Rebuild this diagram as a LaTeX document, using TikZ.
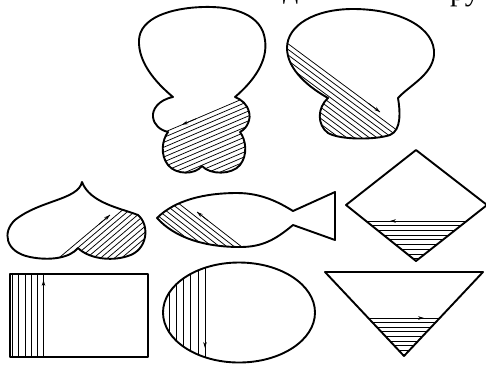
\documentclass[tikz,border=0pt]{standalone}
\usepackage{fontspec}
\setmainfont{Liberation Serif}
\usetikzlibrary{arrows.meta}
\begin{document}
\begin{tikzpicture}[x=1pt,y=-1pt,
  outline/.style={line width=1.9pt, line join=round},
  hatch/.style={line width=0.75pt},
  arr/.style={line width=0.75pt, -{Stealth[length=6pt,width=3.6pt]}},
  toptext/.style={anchor=base west, inner sep=0pt, font=\fontsize{30}{36}\selectfont}]
\clip (0,0) rectangle (486,365);
\fill[white] (0,0) rectangle (486,365);

% cropped heading text
\node[toptext] (t1) at (283,-2) {д};
\node[toptext] (t2) at (450,0.5) {ру};

% ---------- shape 1 : figure ----------
\def\shpA{(235,97) .. controls (255,80) and (268,60) .. (265,40) .. controls (262,15) and (235,6) .. (203,7) .. controls (170,8) and (140,18) .. (139,40) .. controls (138,62) and (155,82) .. (173,97) .. controls (158,100) and (152,110) .. (153,117) .. controls (154,125) and (160,130) .. (168,132) .. controls (162,140) and (160,155) .. (168,165) .. controls (176,175) and (195,175) .. (202,166) .. controls (210,175) and (232,175) .. (240,165) .. controls (248,155) and (246,140) .. (240,132) .. controls (248,128) and (251,118) .. (249,112) .. controls (247,104) and (242,100) .. (235,97) -- cycle}
\begin{scope}
  \clip \shpA;
  \foreach \k in {0,...,14} \draw[hatch, shift={(0,\k*4.9)}] (120,151.2) -- (280,82.9);
\end{scope}
\draw[arr] (196,118.8) -- (182,124.7);
\draw[outline] \shpA;

% ---------- shape 2 : bulb ----------
\def\shpB{(328,98) .. controls (310,88) and (287,70) .. (287,48) .. controls (287,25) and (315,9) .. (353,9) .. controls (400,9) and (436,28) .. (434,55) .. controls (432,75) and (410,85) .. (398,98) .. controls (400,110) and (402,130) .. (390,135) .. controls (375,140) and (340,140) .. (328,133) .. controls (317,125) and (317,108) .. (328,98) -- cycle}
\begin{scope}
  \clip \shpB;
  \draw[hatch] (280,37.8) -- (380,112);
  \foreach \k in {1,...,13} \draw[hatch, shift={(0,\k*5.6)}] (270,30.4) -- (420,141.7);
\end{scope}
\draw[arr] (368,103.1) -- (380,112);
\draw[outline] \shpB;

% ---------- shape 3 : heart ----------
\def\shpC{(82,182) .. controls (78,200) and (40,200) .. (15,220) .. controls (2,232) and (5,252) .. (30,257) .. controls (50,261) and (70,258) .. (78,248) .. controls (88,258) and (110,262) .. (128,256) .. controls (148,250) and (150,225) .. (138,215) .. controls (120,208) and (90,203) .. (82,182) -- cycle}
\begin{scope}
  \clip \shpC;
  \draw[hatch] (55,261.2) -- (110,215);
  \foreach \k in {1,...,12} \draw[hatch, shift={(0,\k*5.9)}] (40,273.9) -- (160,172.4);
\end{scope}
\draw[arr] (99,224.3) -- (110,215);
\draw[outline] \shpC;

% ---------- shape 4 : fish ----------
\def\shpD{(157,218) .. controls (175,200) and (205,193) .. (237,193) .. controls (262,193) and (280,203) .. (293,211) -- (335,192) -- (335,240) -- (293,225) .. controls (275,240) and (262,247) .. (240,247) .. controls (205,247) and (175,238) .. (157,218) -- cycle}
\begin{scope}
  \clip \shpD;
  \draw[hatch] (247,250.9) -- (197,212);
  \foreach \k in {1,...,9} \draw[hatch, shift={(0,\k*5.7)}] (140,167.6) -- (260,261);
\end{scope}
\draw[arr] (208,220.6) -- (197,212);
\draw[outline] \shpD;

% ---------- shape 5 : rhombus ----------
\def\shpE{(416,150) -- (487,205) -- (416,261) -- (346,205) -- cycle}
\begin{scope}
  \clip \shpE;
  \foreach \k in {0,...,8} \draw[hatch] (340,221+\k*4.7) -- (490,221+\k*4.7);
\end{scope}
\draw[arr] (403,221) -- (390,221);
\draw[outline] \shpE;

% ---------- shape 6 : rectangle ----------
\foreach \x in {12.5,18.5,25,31.5,37.5,43.5} \draw[hatch] (\x,274) -- (\x,357);
\draw[arr] (43.5,293) -- (43.5,280);
\draw[outline] (10,274) rectangle (148,357);

% ---------- shape 7 : ellipse ----------
\begin{scope}
  \clip (239,312.5) ellipse [x radius=76, y radius=50];
  \foreach \x in {169,176,183,190,198,205} \draw[hatch] (\x,255) -- (\x,370);
\end{scope}
\draw[arr] (205,335) -- (205,348);
\draw[outline] (239,312.5) ellipse [x radius=76, y radius=50];

% ---------- shape 8 : triangle ----------
\def\shpF{(325,272) -- (483,272) -- (404,356) -- cycle}
\begin{scope}
  \clip \shpF;
  \foreach \k in {0,...,8} \draw[hatch] (320,318+\k*4.6) -- (490,318+\k*4.6);
\end{scope}
\draw[arr] (411,318) -- (424,318);
\draw[outline] \shpF;
\end{tikzpicture}
\end{document}
